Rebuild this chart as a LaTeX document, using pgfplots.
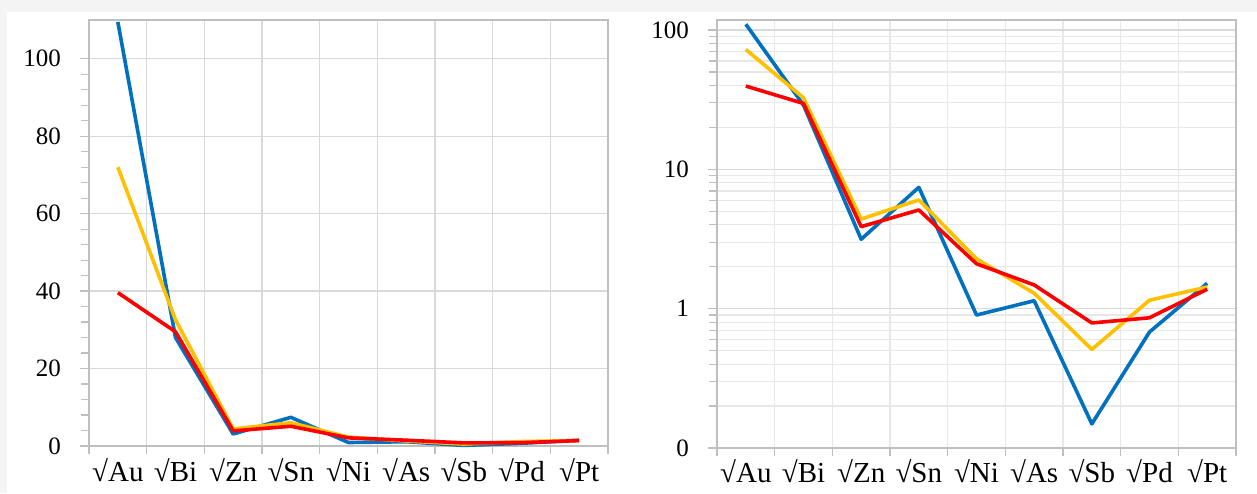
\documentclass[border=0pt]{standalone}
\usepackage{fontspec}
\setmainfont{Liberation Serif}
\usepackage{pgfplots}
\pgfplotsset{compat=1.18}
\definecolor{cblue}{HTML}{0070C0}
\definecolor{cyel}{HTML}{FFC000}
\definecolor{cred}{HTML}{FF0000}
\definecolor{bggray}{HTML}{F4F4F4}
\definecolor{gridc}{HTML}{D9D9D9}
\definecolor{gridm}{HTML}{E8E8E8}
\definecolor{axc}{HTML}{BFBFBF}
\pgfplotsset{
  common/.style={
    scale only axis,
    width=259.5pt,
    xmin=-0.5, xmax=8.5,
    xtick={0,...,8},
    xticklabels={\strut √Au,\strut √Bi,\strut √Zn,\strut √Sn,\strut √Ni,\strut √As,\strut √Sb,\strut √Pd,\strut √Pt},
    minor xtick={-0.5,0.5,...,8.5},
    x tick style={draw=none},
    minor x tick style={draw=axc, line width=0.6pt},
    xtick pos=bottom,
    ytick pos=left,
    xminorgrids=true,
    ymajorgrids=true,
    grid style={draw=gridc, line width=0.6pt},
    tick align=outside,
    major tick length=4.5pt,
    minor tick length=4pt,
    axis line style={draw=axc, line width=0.6pt},
    every axis plot/.append style={line width=1.8pt, no markers, line join=round},
    xticklabel style={font=\fontsize{14.5}{14.5}\selectfont, yshift=2pt},
    yticklabel style={font=\fontsize{12.5}{12.5}\selectfont, xshift=-6pt},
    /pgf/number format/assume math mode=true,
    clip=false,
  }
}
\begin{document}
\begin{tikzpicture}
\path[use as bounding box, fill=white] (0pt,0pt) rectangle (628.5pt,246.5pt);
\fill[bggray] (0pt,240.5pt) rectangle (628.5pt,246.5pt);
\fill[bggray] (0pt,0pt) rectangle (3.5pt,246.5pt);
% left panel (linear)
\begin{axis}[common,
  at={(44.5pt,23.5pt)}, anchor=south west,
  height=213pt,
  ymin=0, ymax=110,
  ytick={0,20,...,100},
  minor y tick num=4,
  y tick style={draw=axc, line width=0.6pt},
]
\addplot[cblue] coordinates {(0,109.5) (1,28.0) (2,3.1) (3,7.4) (4,0.9) (5,1.1) (6,0.15) (7,0.7) (8,1.5)};
\addplot[cyel] coordinates {(0,72) (1,32.6) (2,4.4) (3,6.0) (4,2.3) (5,1.3) (6,0.5) (7,1.15) (8,1.4)};
\addplot[cred] coordinates {(0,39.6) (1,29.5) (2,3.9) (3,5.1) (4,2.1) (5,1.5) (6,0.8) (7,0.86) (8,1.4)};
\end{axis}
% right panel (log)
\begin{axis}[common,
  at={(358.5pt,22.5pt)}, anchor=south west,
  height=214pt,
  ymode=log,
  ymin=0.1, ymax=118,
  ytick={0.1,1,10,100},
  yticklabels={0,1,10,100},
  minor ytick={0.2,0.3,0.4,0.5,0.6,0.7,0.8,0.9,2,3,4,5,6,7,8,9,20,30,40,50,60,70,80,90},
  yminorgrids=true,
  minor grid style={draw=gridm, line width=0.6pt},
  y tick style={draw=axc, line width=0.6pt},
  log basis y=10,
]
\addplot[cblue] coordinates {(0,110) (1,28.9) (2,3.15) (3,7.43) (4,0.90) (5,1.14) (6,0.149) (7,0.68) (8,1.52)};
\addplot[cyel] coordinates {(0,72.5) (1,32.6) (2,4.40) (3,6.03) (4,2.28) (5,1.29) (6,0.51) (7,1.15) (8,1.43)};
\addplot[cred] coordinates {(0,39.6) (1,29.7) (2,3.88) (3,5.11) (4,2.10) (5,1.48) (6,0.79) (7,0.86) (8,1.38)};
\end{axis}
\end{tikzpicture}
\end{document}
